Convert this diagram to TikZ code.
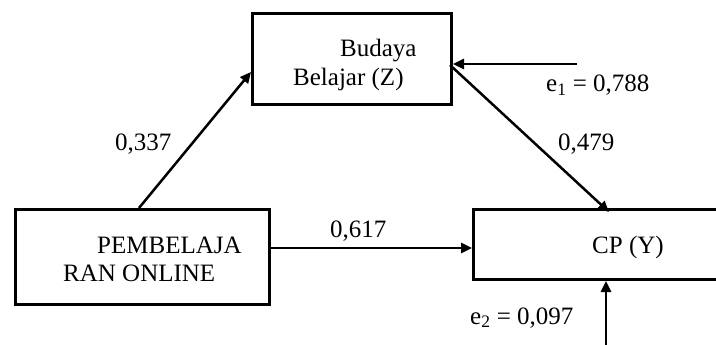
\documentclass[tikz,border=0pt]{standalone}
\usepackage{fontspec}
\setmainfont{Liberation Serif}
\usetikzlibrary{arrows.meta}
\begin{document}
\begin{tikzpicture}[x=1pt,y=-1pt,
  box/.style={draw,line width=3pt,inner sep=0pt,anchor=north west},
  lbl/.style={anchor=base west,inner sep=0pt,font=\fontsize{25}{28}\selectfont},
  arr/.style={line width=2.5pt,-{Triangle[length=11pt,width=10pt]}}]
\useasboundingbox (0,0) rectangle (716,345);
\begin{scope}
\clip (0,0) rectangle (716,345);
\node[box,minimum width=199pt,minimum height=91pt] (Z) at (251,12) {};
\node[box,minimum width=254pt,minimum height=95pt] (X) at (14,208) {};
\node[box,minimum width=260pt,minimum height=70pt] (Y) at (472,208) {};
\end{scope}
\node[lbl] (z1) at (340,57) {Budaya};
\node[lbl] (z2) at (293,86) {Belajar (Z)};
\node[lbl] (x1) at (97,253) {PEMBELAJA};
\node[lbl] (x2) at (63,281) {RAN ONLINE};
\node[lbl] (y1) at (592,253) {CP (Y)};
\node[lbl] (l1) at (115,150) {0,337};
\node[lbl] (l2) at (558,150) {0,479};
\node[lbl] (l3) at (330,237) {0,617};
\node[lbl] (l4) at (546,92) {e\textsubscript{1} = 0,788};
\node[lbl] (l5) at (470,324) {e\textsubscript{2} = 0,097};
\coordinate (e1) at (577,64);
\coordinate (e2) at (606,345);
\coordinate (xa) at (139,208);
\coordinate (za) at (Z.north west |- 0,72);
\coordinate (zb) at (450,65);
\coordinate (ya) at (609,212);
\draw[arr] (xa) -- (za);
\draw[arr] (e1) -- (e1 -| Z.east);
\draw[arr] (zb) -- (ya);
\draw[arr] (X.east |- 0,248) -- (Y.west |- 0,248);
\draw[arr] (e2) -- (e2 |- Y.south);
\end{tikzpicture}
\end{document}
